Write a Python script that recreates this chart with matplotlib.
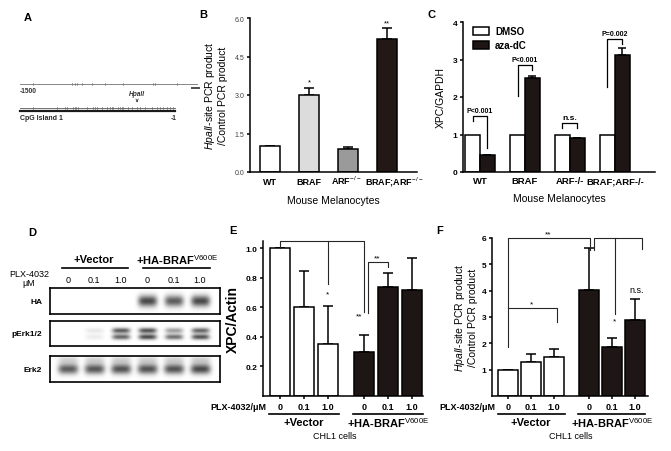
import numpy as np
import matplotlib
matplotlib.use("Agg")
import matplotlib.pyplot as plt

plt.rcParams['font.family'] = ['Liberation Sans', 'DejaVu Sans']
plt.rcParams['mathtext.fontset'] = 'custom'
plt.rcParams['mathtext.rm'] = 'Liberation Sans'
plt.rcParams['mathtext.it'] = 'Liberation Sans:italic'
plt.rcParams['mathtext.bf'] = 'Liberation Sans:bold'

# ---- data ----
# A: promoter schematic (bp positions)
top_marks = [-1374, -997, -968, -948, -900, -803, -677, -503, -212, -193, 19]
cpg_sites = [-1374, -1142, -1064, -1045, -987, -968, -958, -939, -851, -793, -774,
             -755, -706, -658, -629, -609, -600, -551, -532, -513, -503, -455,
             -416, -367, -338, -290, -222, -174, -145, -116, -77, -48, -19]
hpaii_site = -367

# B: HpaII-site PCR, mouse melanocytes
b_groups = ['WT', 'BRAF', r'ARF$^{-/-}$', r'BRAF;ARF$^{-/-}$']
b_vals = [1.0, 3.0, 0.88, 5.2]
b_err = [0.0, 0.28, 0.10, 0.40]
b_stars = ['', '*', '', '**']

# C: XPC/GAPDH with DMSO / aza-dC
c_groups = ['WT', 'BRAF', 'ARF-/-', 'BRAF;ARF-/-']
c_dmso = [1.0, 1.0, 1.0, 1.0]
c_aza = [0.45, 2.50, 0.90, 3.12]
c_aza_err = [0.0, 0.07, 0.0, 0.20]
c_pvals = ['P<0.001', 'P<0.001', 'n.s.', 'P=0.002']

# D: western blot band intensities per lane
lanes = ['0', '0.1', '1.0', '0', '0.1', '1.0']
ha_band = [0, 0, 0, 0.95, 0.85, 0.95]
perk_upper = [0, 0.12, 0.85, 0.9, 0.5, 0.8]
perk_lower = [0, 0.1, 0.8, 0.95, 0.75, 0.9]
erk2_band = [0.85, 0.88, 0.9, 0.9, 0.9, 0.95]

# E: XPC/Actin, CHL1 cells
e_vals = [1.0, 0.60, 0.35, 0.30, 0.74, 0.715]
e_err = [0.0, 0.25, 0.26, 0.115, 0.09, 0.22]

# F: HpaII-site PCR, CHL1 cells
f_vals = [1.0, 1.30, 1.50, 4.03, 1.87, 2.90]
f_err = [0.0, 0.28, 0.28, 1.60, 0.33, 0.78]

W, H = 671, 452
fig = plt.figure(figsize=(W / 100, H / 100), dpi=100)


def box(x0, y0, x1, y1):
    return [x0 / W, 1 - y1 / H, (x1 - x0) / W, (y1 - y0) / H]


ov = fig.add_axes([0, 0, 1, 1])
ov.set_xlim(0, W)
ov.set_ylim(H, 0)
ov.axis('off')

for lab, x, y in [('A', 28, 18), ('B', 203, 15), ('C', 432, 15),
                  ('D', 32, 233), ('E', 233, 231), ('F', 440, 231)]:
    ov.text(x, y, lab, fontsize=8, fontweight='bold', ha='center', va='center')


def style(ax, lw=1.1):
    for s in ['top', 'right']:
        ax.spines[s].set_visible(False)
    for s in ['left', 'bottom']:
        ax.spines[s].set_linewidth(lw)
    ax.tick_params(width=lw, length=2.5, pad=1.5)


# ---- A ----
axA = fig.add_axes(box(0, 60, 200, 130))
axA.set_xlim(-1694, 242)
axA.set_ylim(130, 60)
axA.axis('off')
axA.plot([-1500, 212], [85, 85], color='0.45', lw=0.6)
for m in top_marks:
    axA.plot([m, m], [84, 86], color='0.45', lw=0.5)
axA.plot([165, 235], [89, 89], color='0.3', lw=1.4)
axA.text(-1500, 91.5, '-1500', fontsize=4.8, fontweight='bold', ha='left', va='center', color='0.2')
axA.plot([-1500, -1], [109, 109], color='0.35', lw=0.6)
axA.plot([-1500, -1], [111.5, 111.5], color='0.1', lw=1.6)
for s in cpg_sites:
    axA.plot([s, s], [108, 110], color='0.4', lw=0.5)
axA.text(hpaii_site, 95, 'HpaII', fontsize=4.8, fontweight='bold', style='italic', ha='center', va='center', color='0.2')
axA.annotate('', xy=(hpaii_site, 106), xytext=(hpaii_site, 99.5),
             arrowprops=dict(arrowstyle='->', lw=0.6, color='0.2', mutation_scale=4))
axA.text(-1500, 118, 'CpG Island 1', fontsize=5, fontweight='bold', ha='left', va='center', color='0.15')
axA.text(-10, 119, '-1', fontsize=4.8, fontweight='bold', ha='center', va='center', color='0.15')

# ---- B ----
axB = fig.add_axes(box(250, 19, 417, 173))
style(axB)
xb = np.arange(len(b_groups))
axB.bar(xb, b_vals, width=0.52, color=['white', '#dcdcdc', '#9a9a9a', '#231816'],
        edgecolor='black', linewidth=1.1, zorder=2)
axB.errorbar(xb, b_vals, yerr=[np.zeros(4), b_err], fmt='none', ecolor='black',
             elinewidth=1.1, capsize=3.5, capthick=1.1, zorder=1)
for x, v, e, s in zip(xb, b_vals, b_err, b_stars):
    axB.text(x, v + e + 0.08, s, ha='center', va='bottom', fontsize=5.5)
axB.set_xlim(-0.51, 3.77)
axB.set_ylim(0, 6)
axB.set_yticks([0, 1.5, 3.0, 4.5, 6.0])
axB.set_yticklabels(['0.0', '1.5', '3.0', '4.5', '6.0'], fontsize=5, color='0.25')
axB.set_xticks(xb)
axB.set_xticklabels([])
axB.tick_params(axis='x', length=0)
# group labels on a common baseline, nudged right for the superscripts
for x, g, dx in zip(xb, b_groups, [0, 0, -0.05, 0.18]):
    axB.text(x + dx, -0.078, g, transform=axB.get_xaxis_transform(), ha='center',
             va='baseline', fontsize=6.5, fontweight='bold')
axB.set_ylabel('$\\mathit{HpaII}$-site PCR product\n/Control PCR product', fontsize=7.5, labelpad=5, linespacing=1.1)
axB.set_xlabel('Mouse Melanocytes', fontsize=7.5, labelpad=15)

# ---- C ----
axC = fig.add_axes(box(463, 23, 655, 173))
style(axC)
xc = np.arange(len(c_groups))
bw = 0.333
axC.bar(xc - bw / 2, c_dmso, width=bw, color='white', edgecolor='black', linewidth=1.1, label='DMSO', zorder=2)
axC.bar(xc + bw / 2, c_aza, width=bw, color='#1e1614', edgecolor='black', linewidth=1.1, label='aza-dC', zorder=2)
axC.errorbar(xc + bw / 2, c_aza, yerr=[np.zeros(4), c_aza_err], fmt='none', ecolor='black',
             elinewidth=1.1, capsize=3, capthick=1.1, zorder=1)
brk = [(1.35, 1.5, 0.65), (2.03, 2.86, 2.72), (1.18, 1.3, 1.18), (2.28, 3.55, 3.42)]
for x, (yl, yt, yr), p in zip(xc, brk, c_pvals):
    axC.plot([x - bw / 2, x - bw / 2, x + bw / 2, x + bw / 2], [yl, yt, yt, yr], color='black', lw=0.9)
    axC.text(x, yt + 0.05, p, ha='center', va='bottom', fontsize=5 if p != 'n.s.' else 6, fontweight='bold')
axC.set_xlim(-0.378, 3.89)
axC.set_ylim(0, 4)
axC.set_yticks([0, 1, 2, 3, 4])
axC.set_yticklabels(['0', '1', '2', '3', '4'], fontsize=6, fontweight='bold')
axC.set_xticks(xc)
axC.set_xticklabels(c_groups, fontsize=6.8, fontweight='bold')
axC.tick_params(axis='x', length=0, pad=3)
axC.set_ylabel('XPC/GAPDH', fontsize=7.5, labelpad=5)
axC.set_xlabel('Mouse Melanocytes', fontsize=7.5, labelpad=6)
axC.legend(loc='upper left', bbox_to_anchor=(0.03, 1.0), frameon=False,
           prop={'size': 7, 'weight': 'bold'}, handlelength=1.7, handleheight=0.9,
           labelspacing=0.45, borderaxespad=0, handletextpad=0.6)

# ---- D ----
xl = (-0.68, 5.76)


def blot(ax, bands):
    xs = np.linspace(xl[0], xl[1], 340)
    ys = np.linspace(0, 1, 60)
    img = np.zeros((ys.size, xs.size))
    for yc, vals, hw, hh in bands:
        for i, v in enumerate(vals):
            img += v * np.exp(-((xs - i) / hw) ** 4)[None, :] * np.exp(-((ys - yc) / hh) ** 2)[:, None]
    ax.imshow(1 - 0.75 * np.clip(img, 0, 1), cmap='gray', vmin=0, vmax=1,
              extent=(xl[0], xl[1], 1, 0), aspect='auto', interpolation='bilinear')
    ax.set_xlim(*xl)
    ax.set_ylim(1, 0)
    ax.set_xticks([])
    ax.set_yticks([])
    for s in ax.spines.values():
        s.set_linewidth(1.2)


axHA = fig.add_axes(box(50, 289, 220, 315))
blot(axHA, [(0.5, ha_band, 0.36, 0.22)])
axP = fig.add_axes(box(50, 322, 220, 347))
blot(axP, [(0.38, perk_upper, 0.34, 0.11), (0.64, perk_lower, 0.34, 0.11)])
axE2 = fig.add_axes(box(50, 357, 220, 383))
blot(axE2, [(0.5, erk2_band, 0.38, 0.2), (0.15, [v * 0.25 for v in erk2_band], 0.38, 0.15)])
for ax, lab in [(axHA, 'HA'), (axP, 'pErk1/2'), (axE2, 'Erk2')]:
    ax.text(-0.045, 0.5, lab, transform=ax.transAxes, ha='right', va='center', fontsize=6, fontweight='bold')
for i, l in enumerate(lanes):
    axHA.text(i, 1.31, l, transform=axHA.get_xaxis_transform(), ha='center', va='center', fontsize=6.5)
ov.text(94, 260, '+Vector', ha='center', va='center', fontsize=8, fontweight='bold')
ov.plot([62, 128], [269, 269], color='black', lw=1.2)
ov.text(177, 260, r'+HA-BRAF$^{\mathrm{V600E}}$', ha='center', va='center', fontsize=8, fontweight='bold')
ov.plot([143, 210], [269, 269], color='black', lw=1.2)
ov.text(29, 279, 'PLX-4032\nμM', ha='center', va='center', fontsize=6.5, linespacing=1.0)


# ---- E / F shared layout ----
xp = np.array([0, 1, 2, 3.5, 4.5, 5.5])
fills = ['white'] * 3 + ['#1e1614'] * 3


def cell_panel(ax, vals, err, hpx, fx):
    style(ax)
    ax.bar(xp, vals, width=0.85, color=fills, edgecolor='black', linewidth=1.1, zorder=2)
    ax.errorbar(xp, vals, yerr=[np.zeros(6), err], fmt='none', ecolor='black',
                elinewidth=1.1, capsize=3.3, capthick=1.1, zorder=1)
    ax.set_xticks(xp)
    ax.set_xticklabels(lanes, fontsize=6.5, fontweight='bold')
    ax.tick_params(axis='x', length=2.5, pad=1.5)
    ax.tick_params(axis='y', labelsize=6)
    for t in ax.get_yticklabels():
        t.set_fontweight('bold')
    tr = ax.get_xaxis_transform()
    f = lambda px: -px / hpx
    ax.text(-0.55, f(11), 'PLX-4032/μM', transform=tr, ha='right', va='center', fontsize=6.5, fontweight='bold')
    ax.plot([-0.45, 2.45], [f(18)] * 2, transform=tr, color='black', lw=1.2, clip_on=False)
    ax.plot([3.05, 5.95], [f(18)] * 2, transform=tr, color='black', lw=1.2, clip_on=False)
    ax.text(1, f(26), '+Vector', transform=tr, ha='center', va='center', fontsize=8, fontweight='bold')
    ax.text(4.5, f(26), r'+HA-BRAF$^{\mathrm{V600E}}$', transform=tr, ha='center', va='center',
            fontsize=8, fontweight='bold')
    ax.text(fx, f(40), 'CHL1 cells', transform=tr, ha='center', va='center', fontsize=6.5)


def line(ax, xs, ys):
    ax.plot(xs, ys, color='0.15', lw=0.8, clip_on=False, zorder=3)


axE = fig.add_axes(box(263, 242, 423, 397))
axE.set_xlim(-0.71, 5.97)
axE.set_ylim(0, 1.05)
axE.set_yticks([0.2, 0.4, 0.6, 0.8, 1.0])
axE.set_yticklabels(['0.2', '0.4', '0.6', '0.8', '1.0'])
cell_panel(axE, e_vals, e_err, 155, 2.3)
axE.set_ylabel('XPC/Actin', fontsize=10, fontweight='bold', labelpad=4)
line(axE, [0, 0, 3.5, 3.5], [1.0, 1.05, 1.05, 0.57])
line(axE, [2, 2], [1.05, 0.76])
axE.text(2, 0.69, '*', ha='center', va='center', fontsize=6)
axE.text(3.3, 0.545, '**', ha='center', va='center', fontsize=6)
line(axE, [3.67, 3.67, 4.5, 4.5], [0.56, 0.91, 0.91, 0.875])
axE.text(4.05, 0.935, '**', ha='center', va='center', fontsize=6)

axF = fig.add_axes(box(492, 239, 648, 397))
axF.set_xlim(-0.69, 6.06)
axF.set_ylim(0, 6)
axF.set_yticks([1, 2, 3, 4, 5, 6])
axF.set_yticklabels(['1', '2', '3', '4', '5', '6'])
cell_panel(axF, f_vals, f_err, 158, 2.7)
axF.set_ylabel('$\\mathit{HpaII}$-site PCR product\n/Control PCR product', fontsize=7.5, labelpad=3, linespacing=1.1)
line(axF, [0, 0, 3.55, 3.55], [1.85, 6.0, 6.0, 5.55])
axF.text(1.73, 6.02, '**', ha='center', va='bottom', fontsize=6)
line(axF, [3.72, 3.72, 5.8, 5.8], [5.55, 6.0, 6.0, 5.6])
line(axF, [4.63, 4.63], [6.0, 3.1])
axF.text(4.63, 2.85, '*', ha='center', va='center', fontsize=6)
axF.text(5.58, 4.05, 'n.s.', ha='center', va='center', fontsize=6.5)
line(axF, [0, 2.12, 2.12], [3.35, 3.35, 2.8])
axF.text(1.0, 3.5, '*', ha='center', va='center', fontsize=6)

fig.savefig('out.png', dpi=100)
